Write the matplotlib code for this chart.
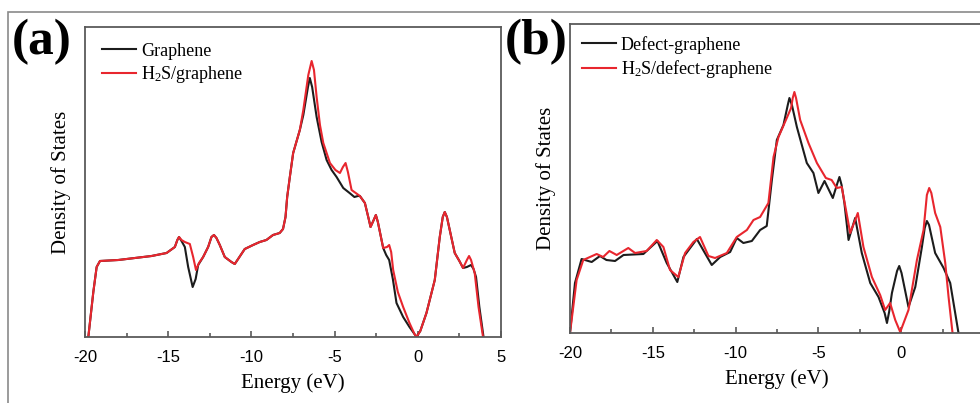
import matplotlib
matplotlib.use("Agg")
import matplotlib.pyplot as plt
from matplotlib.patches import Rectangle
from matplotlib.ticker import MultipleLocator

plt.rcParams['mathtext.fontset'] = 'custom'
plt.rcParams['mathtext.rm'] = 'Liberation Serif'
plt.rcParams['mathtext.it'] = 'Liberation Serif:italic'

# ---- data (a) ----
ea_h2s = [-19.8, -19.5, -19.3, -19.1, -18.0, -17.0, -16.0, -15.1, -14.6, -14.45, -14.35, -14.2, -14.0, -13.7,
          -13.5, -13.33, -13.15, -12.9, -12.6, -12.4, -12.25, -12.1, -11.9, -11.6, -11.2, -11.0, -10.8, -10.4,
          -9.9, -9.5, -9.1, -8.7, -8.3, -8.1, -7.95, -7.85, -7.69, -7.49, -7.09, -6.88, -6.58, -6.38, -6.24, -6.08,
          -5.88, -5.68, -5.28, -4.95, -4.68, -4.5, -4.34, -4.2, -3.98, -3.48, -3.18, -2.95, -2.84, -2.65, -2.52,
          -2.4, -2.08, -1.85, -1.72, -1.6, -1.48, -1.2, -0.88, -0.5, -0.2, -0.08, 0.15, 0.52, 1.02, 1.32, 1.5,
          1.62, 1.75, 1.92, 2.22, 2.5, 2.72, 2.95, 3.08, 3.2, 3.42, 3.65, 3.92]
da_h2s = [0, 45, 70, 76, 77, 79, 81, 84, 90, 97, 100, 97, 95, 93,
          80, 67, 74, 80, 90, 100, 102, 99, 92, 80, 75, 73, 78, 88,
          92, 95, 97, 102, 104, 108, 120, 140, 160, 184, 207, 227, 262, 276, 267, 240,
          212, 194, 174, 167, 164, 170, 174, 165, 147, 141, 134, 118, 110, 117, 122,
          115, 89, 90, 92, 85, 67, 45, 30, 14, 3, 0, 6, 24, 57, 100, 120,
          125, 120, 107, 84, 76, 69, 77, 81, 77, 64, 30, 0]
ea_gr = [-19.8, -19.5, -19.3, -19.1, -18.0, -17.0, -16.0, -15.1, -14.6, -14.45, -14.35, -14.2, -14.0, -13.8,
         -13.53, -13.35, -13.2, -12.9, -12.6, -12.4, -12.25, -12.1, -11.9, -11.6, -11.2, -11.0, -10.8, -10.4,
         -9.9, -9.5, -9.1, -8.7, -8.3, -8.1, -7.95, -7.85, -7.69, -7.49, -7.09, -6.88, -6.6, -6.49, -6.35, -6.08,
         -5.78, -5.48, -5.18, -4.88, -4.48, -4.1, -3.81, -3.6, -3.48, -3.18, -2.95, -2.84, -2.65, -2.52,
         -2.4, -2.08, -1.9, -1.72, -1.5, -1.28, -0.88, -0.5, -0.2, -0.08, 0.15, 0.52, 1.02, 1.32, 1.5,
         1.62, 1.75, 1.92, 2.22, 2.5, 2.72, 2.95, 3.2, 3.35, 3.5, 3.7, 3.95]
da_gr = [0, 45, 70, 76, 77, 79, 81, 84, 90, 97, 100, 96, 90, 70,
         50, 58, 72, 80, 90, 100, 102, 99, 92, 80, 75, 73, 78, 88,
         92, 95, 97, 102, 104, 108, 120, 140, 160, 184, 207, 222, 250, 259, 250, 220,
         195, 177, 167, 160, 149, 144, 140, 141, 141, 134, 118, 110, 117, 122,
         115, 89, 82, 77, 58, 34, 20, 10, 3, 0, 6, 24, 57, 100, 120,
         125, 120, 107, 84, 76, 69, 70, 72, 68, 60, 30, 0]

# ---- data (b) ----
eb_h2s = [-20.0, -19.6, -19.2, -18.39, -18.0, -17.62, -17.18, -16.48, -16.07, -15.37, -14.76, -14.36, -13.96,
          -13.46, -13.05, -12.55, -12.15, -11.64, -11.24, -10.53, -9.93, -9.32, -8.92, -8.52, -8.02, -7.71, -7.41,
          -6.91, -6.65, -6.55, -6.45, -6.35, -6.1, -5.6, -5.09, -4.55, -4.2, -3.89, -3.59, -3.08, -2.62, -2.28,
          -1.77, -1.27, -0.97, -0.67, -0.36, -0.06, 0.44, 0.95, 1.35, 1.55, 1.69, 1.82, 2.05, 2.36, 2.66, 2.86, 3.1]
db_h2s = [0, 53, 73, 79, 76, 82, 78, 85, 80, 82, 93, 86, 63,
          56, 80, 91, 96, 77, 75, 80, 96, 103, 113, 116, 130, 176, 196,
          215, 225, 235, 241, 235, 213, 190, 170, 155, 153, 145, 146, 100, 120, 86,
          56, 38, 23, 30, 13, 1, 23, 73, 103, 138, 145, 140, 120, 106, 70, 36, 0]
eb_def = [-20.0, -19.7, -19.3, -18.69, -18.19, -17.8, -17.28, -16.77, -15.57, -14.72, -14.16, -13.52, -13.15,
          -12.34, -11.44, -10.93, -10.33, -9.93, -9.53, -9.02, -8.52, -8.12, -7.81, -7.51, -7.11, -6.85, -6.75,
          -6.6, -6.3, -5.7, -5.3, -5.0, -4.63, -4.13, -3.85, -3.73, -3.6, -3.43, -3.18, -2.78, -2.38, -1.87, -1.37,
          -1.0, -0.86, -0.72, -0.56, -0.25, -0.12, 0.02, 0.44, 0.85, 1.25, 1.42, 1.55, 1.68, 2.05, 2.56, 2.96, 3.46]
db_def = [0, 50, 74, 71, 77, 73, 72, 78, 79, 92, 70, 51, 76,
          94, 68, 76, 81, 95, 90, 92, 103, 107, 153, 193, 208, 228, 235,
          228, 206, 170, 160, 140, 152, 135, 150, 156, 148, 130, 93, 115, 80, 50, 36,
          20, 10, 22, 40, 62, 67, 60, 26, 46, 86, 105, 112, 108, 80, 65, 50, 0]

xticks = [-20, -15, -10, -5, 0, 5]
labels_a = ["Graphene", r"H$_\mathrm{2}$S/graphene"]
labels_b = ["Defect-graphene", r"H$_\mathrm{2}$S/defect-graphene"]

W, H = 980, 403
fig = plt.figure(figsize=(W / 100, H / 100), dpi=100)
fig.patch.set_facecolor('white')

# outer frame
fig.add_artist(Rectangle((8 / W, -0.1), 1.2, 1.1 - 12 / H, transform=fig.transFigure,
                         fill=False, edgecolor='#8a8a8a', lw=1.2))

BLACK = '#1c1c1c'
RED = '#e8262e'
SPINE = '#5a5a5a'
serif = 'Liberation Serif'
sans = 'Liberation Sans'


def make_axes(l, r, t, b):
    return fig.add_axes([l / W, 1 - b / H, (r - l) / W, (b - t) / H])


def style(ax, ytop, labels, leg_xy, e1, d1, e2, d2):
    ax.plot(e1, d1, color=BLACK, lw=1.5, solid_joinstyle='round', label=labels[0])
    ax.plot(e2, d2, color=RED, lw=1.5, solid_joinstyle='round', label=labels[1])
    ax.set_xlim(-20, 5)
    ax.set_ylim(0, ytop)
    ax.set_xticks(xticks)
    ax.set_xticklabels([str(t) for t in xticks], fontfamily=sans, fontsize=12)
    ax.xaxis.set_minor_locator(MultipleLocator(2.5))
    ax.tick_params(axis='x', which='major', direction='in', length=4, width=1.2, color=SPINE, pad=9)
    ax.tick_params(axis='x', which='minor', direction='in', length=3, width=1.2, color=SPINE)
    ax.set_yticks([])
    for s in ax.spines.values():
        s.set_color(SPINE)
        s.set_linewidth(1.3)
    ax.set_xlabel("Energy (eV)", fontfamily=serif, fontsize=15, labelpad=6)
    ax.set_ylabel("Density of States", fontfamily=serif, fontsize=15, labelpad=10)
    leg = ax.legend(loc='upper left', bbox_to_anchor=leg_xy, frameon=False,
                    prop={'family': serif, 'size': 13}, handlelength=1.9, handletextpad=0.25,
                    labelspacing=0.25, borderpad=0, borderaxespad=0)
    return leg


ax1 = make_axes(85, 501, 27, 337)
style(ax1, 310, labels_a, (0.041, 0.95), ea_gr, da_gr, ea_h2s, da_h2s)
ax2 = make_axes(570, 984, 24, 333)
style(ax2, 309, labels_b, (0.029, 0.962), eb_def, db_def, eb_h2s, db_h2s)

fig.text(12 / W, 1 - 42 / H, "(a)", fontfamily=serif, fontweight='bold', fontsize=37, va='center', ha='left')
fig.text(505 / W, 1 - 42 / H, "(b)", fontfamily=serif, fontweight='bold', fontsize=37, va='center', ha='left')

fig.savefig("out.png", dpi=100)
